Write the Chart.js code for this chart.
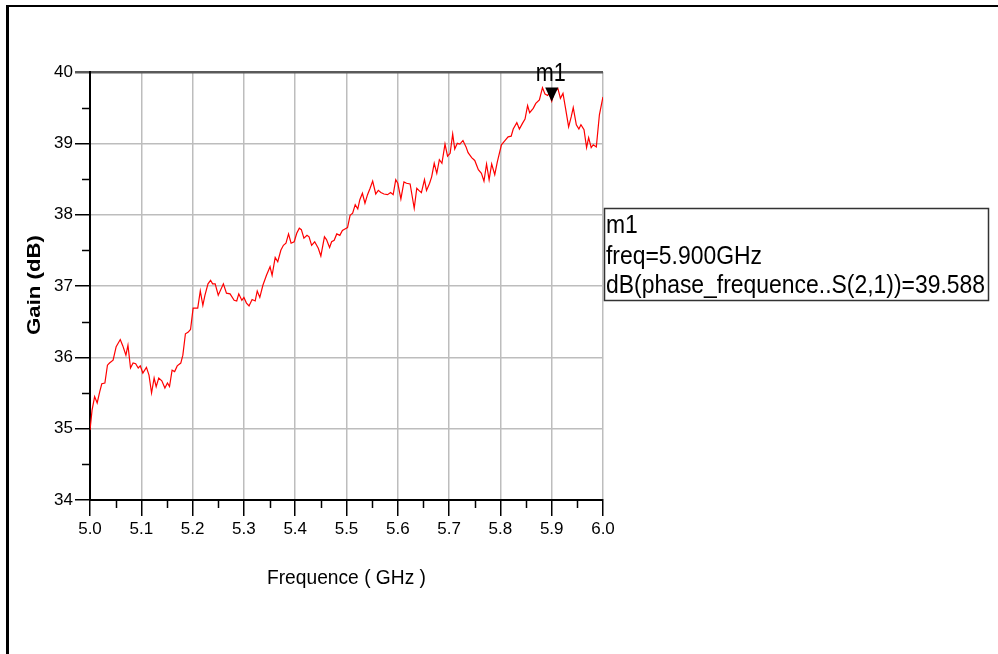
<!DOCTYPE html>
<html>
<head>
<meta charset="utf-8">
<script src="https://cdn.jsdelivr.net/npm/chart.js@4.4.0/dist/chart.umd.min.js"></script>
<style>
  html, body { margin: 0; padding: 0; background: #fff; }
  #wrap { position: relative; width: 998px; height: 654px; overflow: hidden; }
  #frame { position: absolute; left: 6px; top: 5px; width: 1200px; height: 900px; border-left: 3px solid #000; border-top: 2px solid #000; }
  #chart { position: absolute; left: 0; top: 0; }
</style>
</head>
<body>
<div id="wrap">
  <div id="frame"></div>
  <canvas id="chart" width="998" height="654"></canvas>
</div>
<script>
// frequency (GHz) and gain (dB)
let freq = [5.000, 5.004, 5.009, 5.014, 5.019, 5.023, 5.029, 5.034, 5.038, 5.045,
    5.051, 5.059, 5.064, 5.070, 5.074, 5.079, 5.084, 5.089, 5.094, 5.098,
    5.103, 5.110, 5.115, 5.120, 5.125, 5.129, 5.134, 5.140, 5.146, 5.151,
    5.155, 5.160, 5.165, 5.170, 5.177, 5.181, 5.186, 5.191, 5.196, 5.201,
    5.205, 5.210, 5.215, 5.220, 5.224, 5.230, 5.235, 5.239, 5.244, 5.250,
    5.260, 5.266, 5.273, 5.281, 5.286, 5.290, 5.296, 5.300, 5.305, 5.310,
    5.316, 5.322, 5.326, 5.331, 5.337, 5.344, 5.351, 5.355, 5.361, 5.366,
    5.372, 5.377, 5.382, 5.387, 5.392, 5.398, 5.403, 5.408, 5.412, 5.417,
    5.423, 5.427, 5.432, 5.438, 5.445, 5.450, 5.457, 5.461, 5.467, 5.471,
    5.476, 5.481, 5.487, 5.492, 5.497, 5.502, 5.507, 5.512, 5.517, 5.522,
    5.526, 5.531, 5.536, 5.541, 5.546, 5.551, 5.557, 5.562, 5.567, 5.573,
    5.580, 5.586, 5.591, 5.596, 5.600, 5.606, 5.612, 5.617, 5.624, 5.632,
    5.637, 5.641, 5.646, 5.652, 5.656, 5.662, 5.666, 5.671, 5.676, 5.681,
    5.686, 5.692, 5.697, 5.702, 5.707, 5.711, 5.716, 5.721, 5.727, 5.733,
    5.737, 5.744, 5.750, 5.757, 5.763, 5.768, 5.773, 5.778, 5.783, 5.789,
    5.794, 5.802, 5.808, 5.815, 5.821, 5.825, 5.832, 5.837, 5.843, 5.848,
    5.853, 5.857, 5.864, 5.869, 5.876, 5.882, 5.887, 5.892, 5.895, 5.900,
    5.905, 5.912, 5.917, 5.922, 5.927, 5.933, 5.938, 5.942, 5.948, 5.953,
    5.957, 5.963, 5.968, 5.972, 5.977, 5.981, 5.987, 5.993, 5.998, 6.000]

let gain = [34.98, 35.26, 35.45, 35.36, 35.52, 35.63, 35.64, 35.89, 35.92, 35.96,
    36.15, 36.25, 36.16, 36.03, 36.17, 35.85, 35.92, 35.91, 35.85, 35.88,
    35.78, 35.86, 35.75, 35.50, 35.71, 35.59, 35.71, 35.67, 35.57, 35.64,
    35.59, 35.82, 35.80, 35.88, 35.92, 36.03, 36.33, 36.35, 36.39, 36.69,
    36.69, 36.69, 36.93, 36.73, 36.87, 37.03, 37.08, 37.03, 37.03, 36.87,
    37.03, 36.90, 36.89, 36.80, 36.79, 36.89, 36.80, 36.84, 36.76, 36.72,
    36.81, 36.79, 36.93, 36.84, 37.01, 37.15, 37.27, 37.15, 37.40, 37.34,
    37.50, 37.57, 37.60, 37.73, 37.60, 37.62, 37.74, 37.81, 37.79, 37.67,
    37.71, 37.69, 37.57, 37.62, 37.53, 37.42, 37.69, 37.65, 37.54, 37.62,
    37.64, 37.73, 37.71, 37.78, 37.80, 37.82, 37.99, 38.02, 38.14, 38.08,
    38.21, 38.30, 38.16, 38.28, 38.37, 38.47, 38.29, 38.34, 38.31, 38.29,
    38.28, 38.31, 38.28, 38.49, 38.44, 38.22, 38.46, 38.44, 38.43, 38.09,
    38.37, 38.34, 38.31, 38.49, 38.34, 38.44, 38.53, 38.72, 38.58, 38.77,
    38.72, 38.99, 38.82, 38.86, 39.13, 38.92, 39.00, 38.99, 39.04, 38.95,
    38.87, 38.80, 38.76, 38.63, 38.58, 38.47, 38.71, 38.49, 38.71, 38.56,
    38.74, 38.98, 39.03, 39.09, 39.10, 39.20, 39.29, 39.20, 39.28, 39.34,
    39.53, 39.43, 39.49, 39.56, 39.61, 39.78, 39.69, 39.67, 39.70, 39.59,
    39.72, 39.77, 39.63, 39.70, 39.49, 39.23, 39.37, 39.50, 39.26, 39.20,
    39.26, 39.19, 38.94, 39.08, 38.94, 38.98, 38.95, 39.40, 39.58, 39.65]

let x_minor = [5.05, 5.15, 5.25, 5.35, 5.45, 5.55, 5.65, 5.75, 5.85, 5.95]
let y_minor = [34.5, 35.5, 36.5, 37.5, 38.5, 39.5]

let marker_name = 'm1'
let marker_freq = 5.9
let marker_gain = 39.588
let marker_lines = ['m1', 'freq=5.900GHz', 'dB(phase_frequence..S(2,1))=39.588']

let x_title = 'Frequence ( GHz )'
let y_title = 'Gain (dB)'

let points = []
for (let i = 0; i < freq.length; i++) {
    points.push({ x: freq[i], y: gain[i] })
}

let narrow = '"Liberation Sans Narrow", "Liberation Sans", Arial, sans-serif'
let plain = '"Liberation Sans", Arial, sans-serif'

// draw text squeezed/stretched along its length so it fills a given width
function fit_text(ctx, text, x, y, w, font, align, rot) {
    ctx.save()
    ctx.font = font
    let sx = w / ctx.measureText(text).width
    ctx.translate(x, y)
    if (rot) ctx.rotate(rot)
    ctx.scale(sx, 1)
    ctx.textAlign = align
    ctx.fillText(text, 0, 0)
    ctx.restore()
}

let extras = {
    id: 'extras',
    afterDraw(chart) {
        let ctx = chart.ctx
        let xs = chart.scales.x
        let ys = chart.scales.y
        ctx.save()

        // minor ticks
        ctx.strokeStyle = '#000'
        ctx.lineWidth = 1.5
        ctx.beginPath()
        for (let v of y_minor) {
            let py = Math.round(ys.getPixelForValue(v)) + 0.5
            ctx.moveTo(xs.left - 8, py)
            ctx.lineTo(xs.left, py)
        }
        for (let v of x_minor) {
            let px = Math.round(xs.getPixelForValue(v)) + 0.5
            ctx.moveTo(px, ys.bottom)
            ctx.lineTo(px, ys.bottom + 8)
        }
        ctx.stroke()

        // axis titles
        ctx.fillStyle = '#000'
        ctx.textBaseline = 'alphabetic'
        fit_text(ctx, x_title, (xs.left + xs.right) / 2, 584, 159, '21px ' + plain, 'center')
        ctx.textBaseline = 'middle'
        fit_text(ctx, y_title, 35, 285, 100, 'bold 18px ' + plain, 'center', -Math.PI / 2)

        // marker triangle + name
        let mx = xs.getPixelForValue(marker_freq)
        let my = ys.getPixelForValue(marker_gain)
        ctx.beginPath()
        ctx.moveTo(mx, my)
        ctx.lineTo(mx - 6.5, my - 14)
        ctx.lineTo(mx + 6.5, my - 14)
        ctx.closePath()
        ctx.fill()
        ctx.textBaseline = 'alphabetic'
        fit_text(ctx, marker_name, mx - 1, 81, 30, '25px ' + plain, 'center')

        // marker readout box
        ctx.strokeStyle = '#333'
        ctx.lineWidth = 1.5
        ctx.fillStyle = '#fff'
        ctx.fillRect(604, 208, 384, 92)
        ctx.strokeRect(604.5, 208.5, 384, 92)
        ctx.fillStyle = '#000'
        ctx.font = '25px ' + plain
        let sx = 379 / ctx.measureText(marker_lines[2]).width
        let base = [233, 264, 293]
        for (let i = 0; i < marker_lines.length; i++) {
            let w = ctx.measureText(marker_lines[i]).width * sx
            fit_text(ctx, marker_lines[i], 606, base[i], w, '25px ' + plain, 'left')
        }
        ctx.restore()
    }
}

let ctx = document.getElementById('chart').getContext('2d')

let my_chart = new Chart(ctx, {
    type: 'line',
    data: {
        datasets: [{
            data: points,
            borderColor: '#ff0000',
            borderWidth: 1.2,
            pointRadius: 0,
            tension: 0,
            fill: false
        }]
    },
    options: {
        responsive: false,
        animation: false,
        events: [],
        layout: { padding: { top: 72, right: 395, left: 0, bottom: 0 } },
        plugins: { legend: { display: false }, tooltip: { enabled: false } },
        scales: {
            x: {
                type: 'linear',
                min: 5,
                max: 6,
                afterFit: (s) => { s.height = 154 },
                ticks: {
                    stepSize: 0.1,
                    color: '#000',
                    padding: 3,
                    maxRotation: 0,
                    font: { family: narrow, size: 17 },
                    callback: (v) => v.toFixed(1)
                },
                grid: {
                    color: '#bdbdbd',
                    lineWidth: 1.5,
                    tickColor: '#000',
                    tickLength: 16
                },
                border: { color: '#000', width: 2 }
            },
            y: {
                min: 34,
                max: 40,
                afterFit: (s) => { s.width = 90 },
                ticks: {
                    stepSize: 1,
                    color: '#000',
                    padding: 2,
                    font: { family: narrow, size: 17 }
                },
                grid: {
                    color: (c) => c.tick && c.tick.value === 40 ? '#5a5a5a' : '#bdbdbd',
                    lineWidth: (c) => c.tick && c.tick.value === 40 ? 2.5 : 1.5,
                    tickColor: (c) => c.tick && c.tick.value === 40 ? '#5a5a5a' : '#000',
                    tickLength: 15
                },
                border: { color: '#000', width: 2 }
            }
        }
    },
    plugins: [extras]
});
</script>
</body>
</html>
